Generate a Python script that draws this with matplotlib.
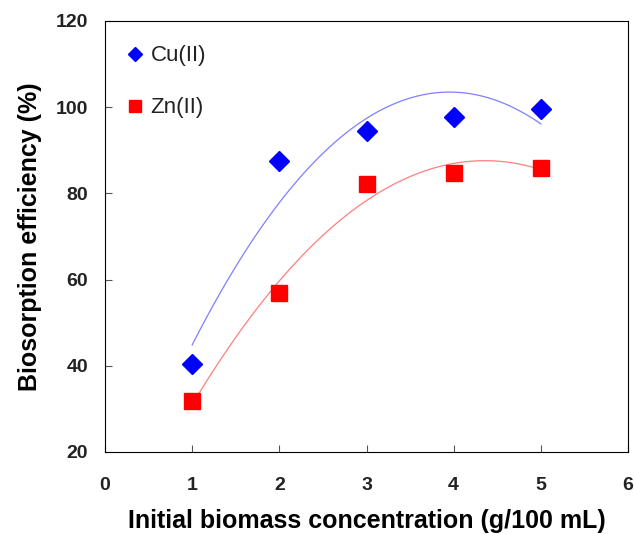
import numpy as np
import matplotlib.pyplot as plt

plt.rcParams['font.family'] = ['Liberation Sans', 'DejaVu Sans']

biomass = np.array([1, 2, 3, 4, 5])
cu_eff = np.array([40.5, 87.5, 94.5, 97.7, 99.5])
zn_eff = np.array([31.8, 56.8, 82.2, 84.7, 86.0])


def trend(x, y):
    # 2nd order polynomial trendline, as in the original spreadsheet chart
    coef = np.polyfit(x, y, 2)
    xs = np.linspace(x.min(), x.max(), 100)
    return xs, np.polyval(coef, xs)


fig = plt.figure(figsize=(6.34, 5.34), dpi=100)
ax = fig.add_subplot(111)
fig.subplots_adjust(left=105/634, right=628/634, top=1-21/534, bottom=1-452/534)

xs, ys = trend(biomass, cu_eff)
ax.plot(xs, ys, color='#7f7fff', lw=0.9)
xs, ys = trend(biomass, zn_eff)
ax.plot(xs, ys, color='#ff7f7f', lw=0.9)

ax.plot(biomass, cu_eff, 'D', color='#0000ff', ms=10.5, label='Cu(II)', linestyle='none')
ax.plot(biomass, zn_eff, 's', color='#ff0000', ms=11.5, label='Zn(II)', linestyle='none')

ax.set_xlim(0, 6)
ax.set_ylim(20, 120)
ax.set_xticks(range(0, 7))
ax.set_yticks(range(20, 121, 20))
ax.tick_params(direction='in', length=5, labelsize=14, color='#555555')
ax.tick_params(axis='x', pad=18)
ax.tick_params(axis='y', pad=12)
for lab in ax.get_xticklabels() + ax.get_yticklabels():
    lab.set_fontweight('bold')
    lab.set_color('#222222')

ax.set_xlabel('Initial biomass concentration (g/100 mL)', fontsize=18, fontweight='bold', labelpad=11)
ax.set_ylabel('Biosorption efficiency (%)', fontsize=18, fontweight='bold', labelpad=10)

leg = ax.legend(loc='upper left', frameon=False, fontsize=16, labelspacing=1.4,
                handletextpad=0.3, handlelength=0.8, bbox_to_anchor=(0.002, 0.99),
                markerscale=0.72)
for t in leg.get_texts():
    t.set_color('#222222')

plt.savefig('out.png', dpi=100)
